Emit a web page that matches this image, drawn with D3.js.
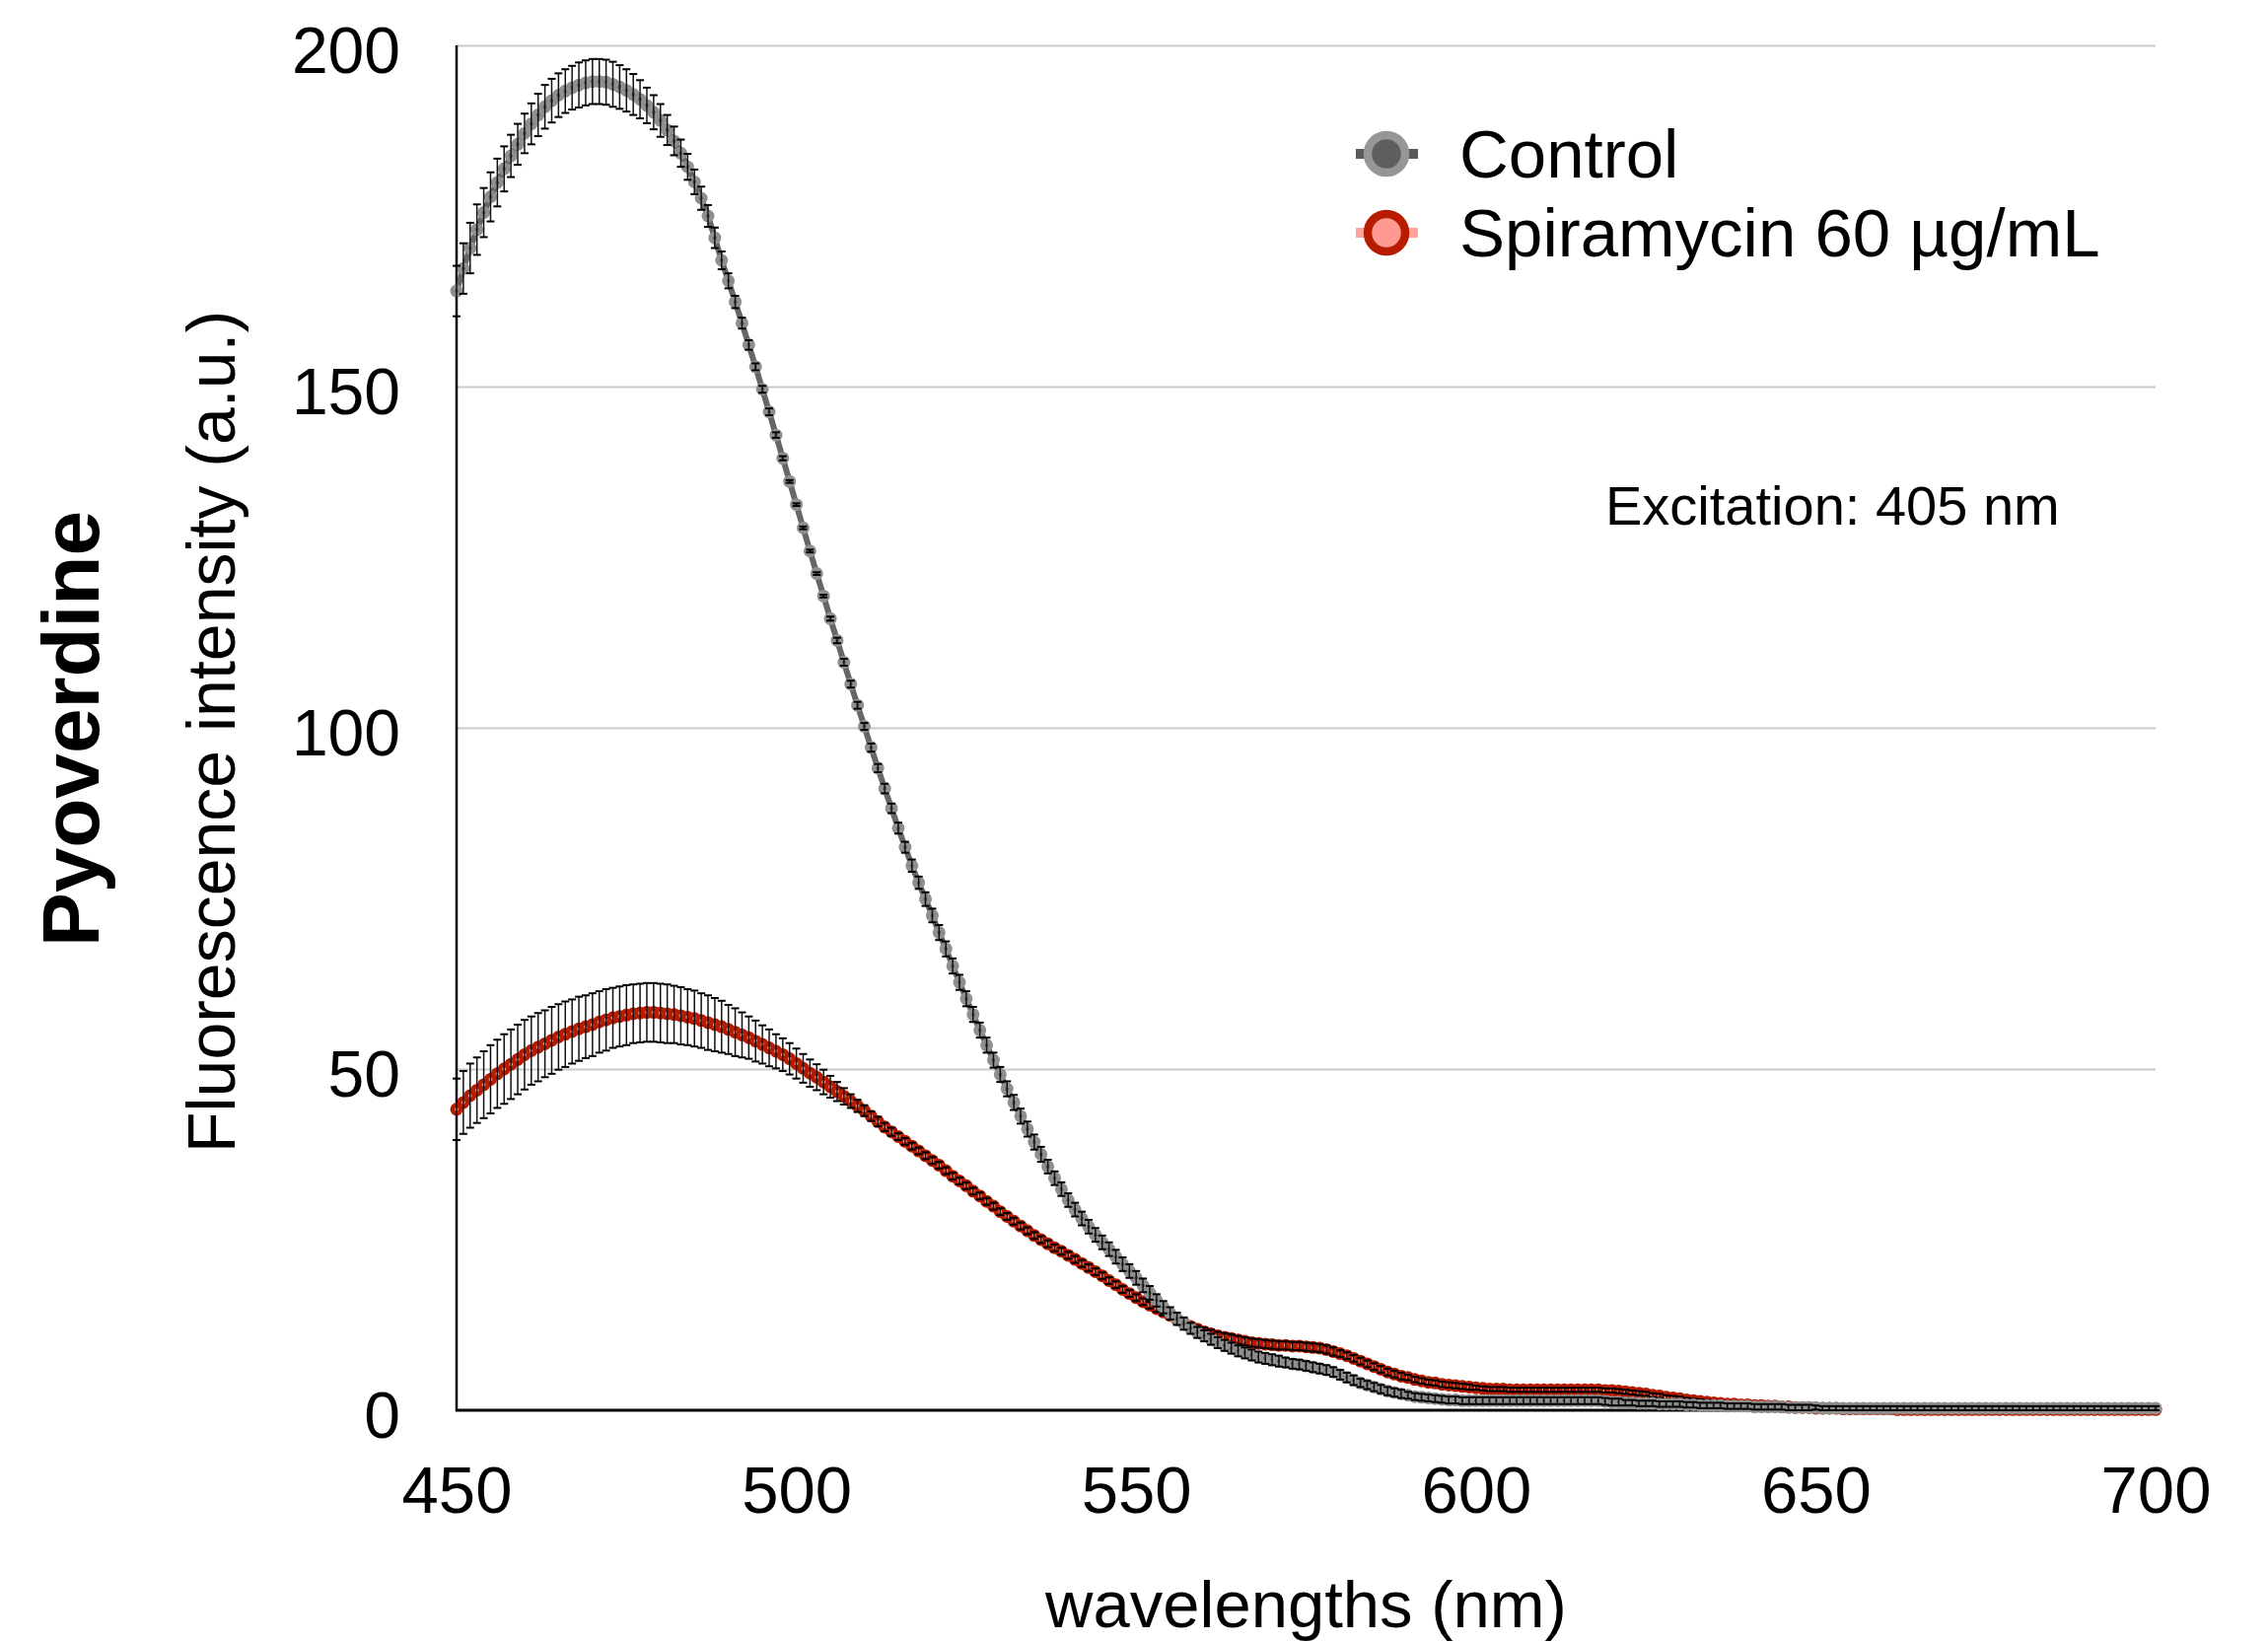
<!DOCTYPE html>
<html>
<head>
<meta charset="utf-8">
<script src="https://cdn.jsdelivr.net/npm/d3@7"></script>
<style>
  body { margin: 0; background: #fff; }
  svg { display: block; font-family: "Liberation Sans", Arial, Helvetica, sans-serif; }
</style>
</head>
<body>
<svg id="chart" width="2300" height="1665"></svg>
<script>
// wavelengths sampled every 1 nm
const wavelengths = d3.range(450, 701);

// Control mean fluorescence (a.u.), 450 -> 700 nm
const controlMean = [
  164.0, 167.3, 170.3, 173.0, 175.5, 177.8, 179.9, 181.9, 183.8, 185.5,
  187.1, 188.5, 189.8, 191.0, 191.9, 192.7, 193.3, 193.8, 194.2, 194.5,
  194.7, 194.7, 194.6, 194.3, 193.9, 193.4, 192.8, 192.1, 191.2, 190.2,
  189.0, 187.6, 186.0, 184.2, 182.2, 180.0, 177.6, 175.0, 171.8, 168.5,
  165.5, 162.4, 159.3, 156.1, 152.9, 149.6, 146.3, 142.9, 139.5, 136.1,
  132.7, 129.3, 125.9, 122.6, 119.3, 116.0, 112.8, 109.6, 106.4, 103.3,
  100.2, 97.1, 94.1, 91.1, 88.2, 85.3, 82.5, 79.8, 77.3, 74.9,
  72.5, 70.0, 67.6, 65.1, 62.7, 60.3, 58.0, 55.7, 53.5, 51.3,
  49.2, 47.1, 45.1, 43.1, 41.2, 39.3, 37.5, 35.7, 34.0, 32.4,
  30.8, 29.4, 28.1, 26.9, 25.7, 24.6, 23.6, 22.5, 21.4, 20.4,
  19.4, 18.3, 17.2, 16.1, 15.1, 14.2, 13.4, 12.7, 12.0, 11.4,
  10.9, 10.4, 9.9, 9.5, 9.1, 8.7, 8.4, 8.1, 7.8, 7.6,
  7.4, 7.2, 7.0, 6.8, 6.7, 6.5, 6.3, 6.1, 5.9, 5.6,
  5.2, 4.8, 4.4, 4.0, 3.7, 3.4, 3.1, 2.8, 2.6, 2.4,
  2.2, 2.0, 1.9, 1.8, 1.7, 1.6, 1.5, 1.5, 1.4, 1.4,
  1.4, 1.4, 1.4, 1.4, 1.4, 1.4, 1.4, 1.4, 1.4, 1.4,
  1.4, 1.4, 1.4, 1.4, 1.4, 1.4, 1.4, 1.4, 1.4, 1.3,
  1.2, 1.2, 1.1, 1.1, 1.0, 1.0, 1.0, 0.9, 0.9, 0.9,
  0.9, 0.8, 0.8, 0.7, 0.7, 0.7, 0.7, 0.6, 0.6, 0.6,
  0.6, 0.5, 0.5, 0.5, 0.5, 0.5, 0.4, 0.4, 0.4, 0.4,
  0.4, 0.3, 0.3, 0.3, 0.3, 0.3, 0.3, 0.3, 0.3, 0.3,
  0.3, 0.3, 0.3, 0.3, 0.3, 0.3, 0.3, 0.3, 0.3, 0.3,
  0.3, 0.3, 0.3, 0.3, 0.3, 0.3, 0.3, 0.3, 0.3, 0.3,
  0.3, 0.3, 0.3, 0.3, 0.3, 0.3, 0.3, 0.3, 0.3, 0.3,
  0.3, 0.3, 0.3, 0.3, 0.3, 0.3, 0.3, 0.3, 0.3, 0.3,
  0.3
];
const controlErr = [
  3.7, 3.7, 3.7, 3.7, 3.6, 3.6, 3.5, 3.3, 3.1, 3.0,
  2.9, 3.0, 3.1, 3.2, 3.2, 3.2, 3.2, 3.2, 3.3, 3.3,
  3.3, 3.3, 3.3, 3.3, 3.2, 3.1, 3.0, 2.8, 2.6, 2.5,
  2.4, 2.2, 2.1, 2.0, 1.9, 1.8, 1.7, 1.6, 1.5, 1.3,
  1.1, 0.9, 0.8, 0.7, 0.5, 0.5, 0.5, 0.4, 0.3, 0.2,
  0.2, 0.2, 0.2, 0.2, 0.2, 0.3, 0.4, 0.5, 0.5, 0.5,
  0.5, 0.6, 0.6, 0.7, 0.7, 0.8, 0.8, 0.9, 0.9, 1.0,
  1.0, 1.1, 1.1, 1.1, 1.1, 1.1, 1.1, 1.1, 1.1, 1.1,
  1.1, 1.1, 1.1, 1.1, 1.1, 1.1, 1.1, 1.0, 1.0, 1.0,
  1.0, 1.0, 1.0, 1.0, 1.0, 1.0, 1.0, 1.0, 1.0, 1.0,
  1.0, 1.0, 1.0, 0.9, 0.9, 0.9, 0.9, 0.9, 0.8, 0.8,
  0.8, 0.8, 0.8, 0.8, 0.8, 0.8, 0.8, 0.8, 0.8, 0.8,
  0.8, 0.8, 0.7, 0.7, 0.7, 0.7, 0.7, 0.7, 0.7, 0.7,
  0.7, 0.7, 0.7, 0.6, 0.6, 0.6, 0.6, 0.6, 0.6, 0.6,
  0.5, 0.5, 0.5, 0.5, 0.5, 0.5, 0.5, 0.5, 0.5, 0.5,
  0.5, 0.5, 0.5, 0.5, 0.5, 0.5, 0.5, 0.5, 0.5, 0.5,
  0.5, 0.5, 0.5, 0.5, 0.5, 0.5, 0.5, 0.5, 0.5, 0.5,
  0.5, 0.5, 0.4, 0.4, 0.4, 0.4, 0.4, 0.4, 0.4, 0.4,
  0.4, 0.4, 0.4, 0.4, 0.4, 0.4, 0.4, 0.4, 0.4, 0.4,
  0.4, 0.4, 0.4, 0.4, 0.4, 0.4, 0.4, 0.4, 0.4, 0.4,
  0.3, 0.3, 0.3, 0.3, 0.3, 0.3, 0.3, 0.3, 0.3, 0.3,
  0.3, 0.3, 0.3, 0.3, 0.3, 0.3, 0.3, 0.3, 0.3, 0.3,
  0.3, 0.3, 0.3, 0.3, 0.3, 0.3, 0.3, 0.3, 0.3, 0.3,
  0.3, 0.3, 0.3, 0.3, 0.3, 0.3, 0.3, 0.3, 0.3, 0.3,
  0.3, 0.3, 0.3, 0.3, 0.3, 0.3, 0.3, 0.3, 0.3, 0.3,
  0.3
];

// Spiramycin 60 ug/mL
const spiraMean = [
  44.1, 45.1, 46.1, 46.9, 47.7, 48.5, 49.3, 50.0, 50.7, 51.4,
  52.1, 52.7, 53.2, 53.7, 54.2, 54.7, 55.1, 55.5, 55.9, 56.2,
  56.5, 56.9, 57.2, 57.5, 57.7, 57.9, 58.1, 58.2, 58.3, 58.3,
  58.2, 58.1, 58.0, 57.8, 57.6, 57.4, 57.1, 56.8, 56.5, 56.2,
  55.8, 55.4, 55.0, 54.6, 54.1, 53.6, 53.1, 52.6, 52.1, 51.5,
  50.8, 50.1, 49.4, 48.8, 48.1, 47.4, 46.7, 46.0, 45.3, 44.6,
  43.9, 43.1, 42.3, 41.5, 40.8, 40.1, 39.4, 38.7, 38.0, 37.3,
  36.6, 35.9, 35.1, 34.3, 33.6, 32.9, 32.1, 31.4, 30.6, 29.9,
  29.1, 28.4, 27.7, 27.0, 26.3, 25.6, 25.0, 24.4, 23.8, 23.3,
  22.7, 22.1, 21.5, 20.9, 20.3, 19.7, 19.0, 18.4, 17.7, 17.1,
  16.5, 15.9, 15.4, 14.9, 14.4, 13.9, 13.3, 12.8, 12.3, 11.9,
  11.5, 11.2, 10.9, 10.7, 10.5, 10.3, 10.1, 9.9, 9.8, 9.7,
  9.6, 9.5, 9.5, 9.4, 9.4, 9.3, 9.2, 9.1, 8.9, 8.6,
  8.3, 8.0, 7.6, 7.2, 6.8, 6.4, 6.0, 5.6, 5.3, 5.0,
  4.8, 4.5, 4.3, 4.1, 4.0, 3.8, 3.7, 3.6, 3.5, 3.4,
  3.3, 3.2, 3.1, 3.1, 3.1, 3.0, 3.0, 3.0, 3.0, 3.0,
  3.0, 3.0, 3.0, 3.0, 3.0, 3.0, 3.0, 3.0, 3.0, 2.9,
  2.9, 2.8, 2.7, 2.6, 2.5, 2.4, 2.2, 2.1, 1.9, 1.8,
  1.7, 1.5, 1.4, 1.3, 1.2, 1.1, 1.0, 0.9, 0.9, 0.8,
  0.8, 0.7, 0.7, 0.6, 0.6, 0.5, 0.5, 0.4, 0.4, 0.4,
  0.3, 0.3, 0.3, 0.3, 0.2, 0.2, 0.2, 0.2, 0.2, 0.2,
  0.2, 0.2, 0.1, 0.1, 0.1, 0.1, 0.1, 0.1, 0.1, 0.1,
  0.1, 0.1, 0.1, 0.1, 0.1, 0.1, 0.1, 0.1, 0.1, 0.1,
  0.1, 0.1, 0.1, 0.1, 0.1, 0.1, 0.1, 0.1, 0.1, 0.1,
  0.1, 0.1, 0.1, 0.1, 0.1, 0.1, 0.1, 0.1, 0.1, 0.1,
  0.1
];
const spiraErr = [
  4.5, 4.6, 4.7, 4.8, 4.9, 5.0, 5.0, 5.1, 5.1, 5.1,
  5.1, 5.0, 5.0, 4.9, 4.9, 4.8, 4.8, 4.7, 4.7, 4.6,
  4.6, 4.5, 4.5, 4.4, 4.4, 4.4, 4.3, 4.3, 4.3, 4.3,
  4.3, 4.3, 4.2, 4.2, 4.1, 4.1, 4.0, 4.0, 3.9, 3.8,
  3.6, 3.5, 3.3, 3.1, 3.0, 2.8, 2.7, 2.5, 2.4, 2.3,
  2.2, 2.1, 2.0, 1.9, 1.8, 1.6, 1.4, 1.2, 1.0, 0.9,
  0.8, 0.7, 0.7, 0.6, 0.6, 0.5, 0.5, 0.5, 0.5, 0.5,
  0.5, 0.5, 0.5, 0.5, 0.5, 0.5, 0.5, 0.5, 0.5, 0.5,
  0.5, 0.5, 0.5, 0.5, 0.5, 0.5, 0.5, 0.5, 0.5, 0.5,
  0.5, 0.5, 0.5, 0.5, 0.5, 0.5, 0.5, 0.5, 0.5, 0.5,
  0.5, 0.5, 0.5, 0.5, 0.5, 0.5, 0.5, 0.5, 0.5, 0.5,
  0.6, 0.6, 0.6, 0.6, 0.6, 0.6, 0.6, 0.6, 0.6, 0.6,
  0.6, 0.6, 0.6, 0.6, 0.6, 0.6, 0.6, 0.6, 0.6, 0.6,
  0.5, 0.5, 0.5, 0.5, 0.5, 0.5, 0.5, 0.5, 0.5, 0.5,
  0.4, 0.4, 0.4, 0.4, 0.4, 0.4, 0.4, 0.4, 0.4, 0.4,
  0.3, 0.3, 0.3, 0.3, 0.3, 0.3, 0.3, 0.3, 0.3, 0.3,
  0.3, 0.3, 0.3, 0.3, 0.3, 0.3, 0.3, 0.3, 0.3, 0.3,
  0.3, 0.3, 0.3, 0.3, 0.3, 0.3, 0.3, 0.3, 0.3, 0.3,
  0.3, 0.3, 0.3, 0.3, 0.3, 0.3, 0.3, 0.3, 0.3, 0.3,
  0.3, 0.3, 0.3, 0.3, 0.3, 0.3, 0.3, 0.3, 0.3, 0.3,
  0.3, 0.3, 0.3, 0.3, 0.3, 0.3, 0.3, 0.3, 0.3, 0.3,
  0.3, 0.3, 0.3, 0.3, 0.3, 0.3, 0.3, 0.3, 0.3, 0.3,
  0.3, 0.3, 0.3, 0.3, 0.3, 0.3, 0.3, 0.3, 0.3, 0.3,
  0.3, 0.3, 0.3, 0.3, 0.3, 0.3, 0.3, 0.3, 0.3, 0.3,
  0.3, 0.3, 0.3, 0.3, 0.3, 0.3, 0.3, 0.3, 0.3, 0.3,
  0.3
];

const xTicks = [450, 500, 550, 600, 650, 700];
const yTicks = [0, 50, 100, 150, 200];
const seriesNames = ["Control", "Spiramycin 60 µg/mL"];

// ====== layout ======
const svg = d3.select("#chart");
const plotLeft = 463, plotRight = 2186, plotTop = 46, plotBottom = 1430;

const x = d3.scaleLinear().domain([450, 700]).range([plotLeft, plotRight]);
const y = d3.scaleLinear().domain([0, 200]).range([plotBottom, plotTop]);

// gridlines
svg.append("g")
  .attr("transform", `translate(${plotLeft},0)`)
  .call(d3.axisLeft(y).tickValues(yTicks.filter(d => d > 0)).tickSize(-(plotRight - plotLeft)).tickFormat(""))
  .call(g => g.select(".domain").remove())
  .selectAll("line")
    .attr("stroke", "#c9c9c9")
    .attr("stroke-width", 2);

// y tick labels
const yAx = svg.append("g")
  .attr("transform", `translate(${plotLeft},0)`)
  .call(d3.axisLeft(y).tickValues(yTicks).tickSize(0).tickPadding(57));
yAx.select(".domain").remove();
yAx.selectAll("text")
  .attr("dy", "0.41em")
  .attr("font-size", 66)
  .attr("font-family", "Liberation Sans, Arial, sans-serif")
  .attr("fill", "#000");

// x tick labels
const xAx = svg.append("g")
  .attr("transform", `translate(0,${plotBottom})`)
  .call(d3.axisBottom(x).tickValues(xTicks).tickSize(0).tickPadding(56));
xAx.select(".domain").remove();
xAx.selectAll("text")
  .attr("font-size", 67)
  .attr("font-family", "Liberation Sans, Arial, sans-serif")
  .attr("fill", "#000");

// axis lines
svg.append("line")
  .attr("x1", plotLeft).attr("x2", plotLeft).attr("y1", plotTop).attr("y2", plotBottom + 1)
  .attr("stroke", "#000").attr("stroke-width", 2.5);
svg.append("line")
  .attr("x1", plotLeft - 1).attr("x2", plotRight).attr("y1", plotBottom).attr("y2", plotBottom)
  .attr("stroke", "#000").attr("stroke-width", 3);

// ====== series ======
const series = [
  {name: seriesNames[1], mean: spiraMean, err: spiraErr,
   line: "#ff9d94", stroke: "#b71b00", fill: "#ff998f"},
  {name: seriesNames[0], mean: controlMean, err: controlErr,
   line: "#666666", stroke: "#8f8f8f", fill: "#5c5c5c"}
];

const lineGen = d3.line()
  .x((d, i) => x(wavelengths[i]))
  .y(d => y(d));

series.forEach(s => {
  const g = svg.append("g");
  g.append("path")
    .datum(s.mean)
    .attr("d", lineGen)
    .attr("fill", "none")
    .attr("stroke", s.line)
    .attr("stroke-width", 6);

  g.selectAll("circle")
    .data(s.mean)
    .join("circle")
      .attr("cx", (d, i) => x(wavelengths[i]))
      .attr("cy", d => y(d))
      .attr("r", 4.2)
      .attr("fill", s.fill)
      .attr("stroke", s.stroke)
      .attr("stroke-width", 4.6);

  // error bars
  const eb = g.selectAll("g.eb")
    .data(s.mean.map((m, i) => ({wl: wavelengths[i], m: m, e: s.err[i]})))
    .join("g").attr("class", "eb");
  eb.append("line")
    .attr("x1", d => x(d.wl)).attr("x2", d => x(d.wl))
    .attr("y1", d => y(d.m + d.e)).attr("y2", d => y(d.m - d.e))
    .attr("stroke", "#111").attr("stroke-width", 1.5);
  eb.append("line")
    .attr("x1", d => x(d.wl) - 4).attr("x2", d => x(d.wl) + 4)
    .attr("y1", d => y(d.m + d.e)).attr("y2", d => y(d.m + d.e))
    .attr("stroke", "#000").attr("stroke-width", 2);
  eb.append("line")
    .attr("x1", d => x(d.wl) - 4).attr("x2", d => x(d.wl) + 4)
    .attr("y1", d => y(d.m - d.e)).attr("y2", d => y(d.m - d.e))
    .attr("stroke", "#000").attr("stroke-width", 2);
});

// ====== legend ======
const legendItems = [
  {label: seriesNames[0], line: "#5a5a5a", stroke: "#969696", fill: "#5e5e5e"},
  {label: seriesNames[1], line: "#ffa39b", stroke: "#b81c00", fill: "#ff9a92"}
];
const legend = svg.append("g").attr("transform", "translate(1406,156)");
legendItems.forEach((it, i) => {
  const row = legend.append("g").attr("transform", `translate(0,${i * 80})`);
  row.append("line")
    .attr("x1", -31).attr("x2", 32)
    .attr("stroke", it.line).attr("stroke-width", 10);
  row.append("circle")
    .attr("r", 19)
    .attr("fill", it.fill)
    .attr("stroke", it.stroke)
    .attr("stroke-width", 8.5);
  row.append("text")
    .attr("x", 74).attr("y", 24)
    .attr("font-size", 69)
    .attr("fill", "#000")
    .text(it.label);
});

// annotation
svg.append("text")
  .attr("x", 1628).attr("y", 532)
  .attr("font-size", 56)
  .attr("fill", "#000")
  .text("Excitation: 405 nm");

// axis titles
svg.append("text")
  .attr("x", (plotLeft + plotRight) / 2).attr("y", 1650)
  .attr("text-anchor", "middle")
  .attr("font-size", 67)
  .attr("fill", "#000")
  .text("wavelengths (nm)");

svg.append("text")
  .attr("transform", "translate(238,742) rotate(-90)")
  .attr("text-anchor", "middle")
  .attr("font-size", 68)
  .attr("fill", "#000")
  .text("Fluorescence intensity (a.u.)");

svg.append("text")
  .attr("transform", "translate(100,739) rotate(-90)")
  .attr("text-anchor", "middle")
  .attr("font-size", 82)
  .attr("font-weight", "bold")
  .attr("fill", "#000")
  .text("Pyoverdine");
</script>
</body>
</html>
